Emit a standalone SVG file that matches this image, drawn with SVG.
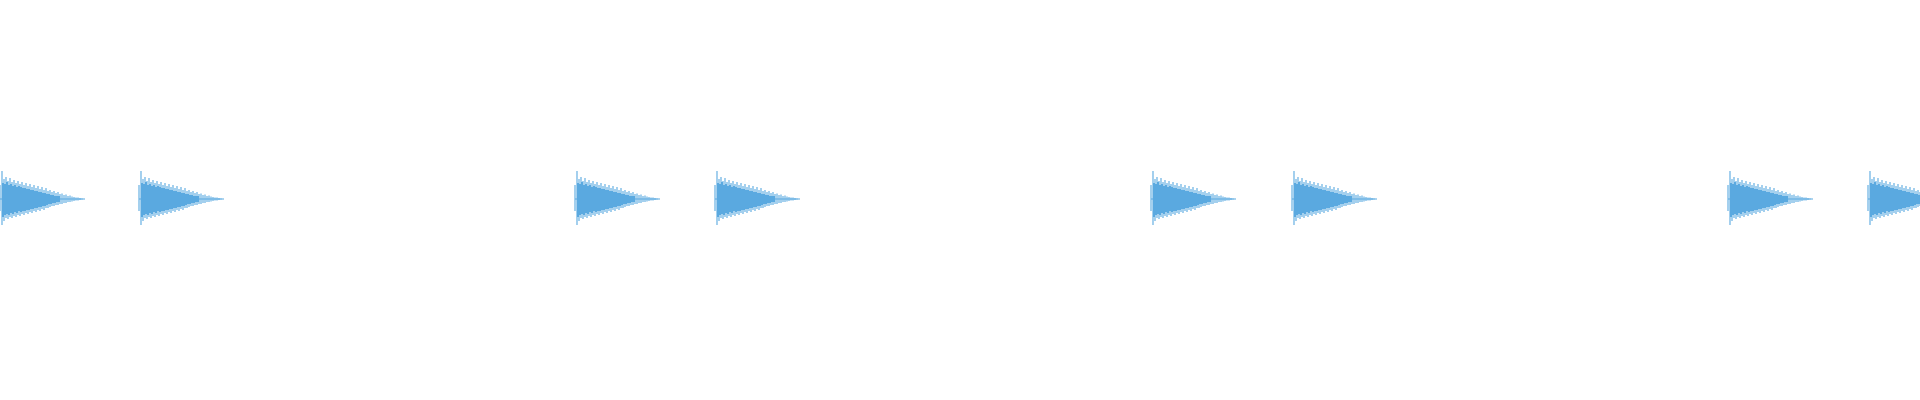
<svg xmlns="http://www.w3.org/2000/svg" width="1920" height="400" viewBox="0 0 1920 400">
<style>.w{fill:none;stroke:#5aa9e0;stroke-width:1.1}</style>
<defs>
<path id="b" class="w" d="M0,0H85M0,-14V12M2,-28V26M3,-16V18M4,-20V22M5,-15V16M6,-22V19M7,-17V15M8,-18V20M9,-14V16M10,-21V18M11,-15V14M12,-17V19M13,-13V15M14,-19V17M15,-14V13M16,-16V18M17,-12V14M18,-18V16M19,-13V12M20,-15V17M21,-12V13M22,-17V15M23,-11V12M24,-14V16M25,-11V12M26,-16V14M27,-10V11M28,-13V15M29,-10V11M30,-15V13M31,-9V10M32,-12V14M33,-9V10M34,-14V12M35,-8V9M36,-11V13M37,-8V9M38,-13V11M39,-7V8M40,-10V12M41,-7V8M42,-12V10M43,-6V7M44,-9V11M45,-6V7M46,-11V9M47,-5V6M48,-8V9M49,-5V5M50,-9V8M51,-4V5M52,-7V7M53,-4V4M54,-8V7M55,-3V4M56,-6V6M57,-3V3M58,-7V6M59,-3V3M60,-5V5M62,-5.5V5M64,-4V4M66,-4.5V4M68,-3V3M70,-3.5V3M72,-2.5V2.5M74,-2V2M76,-1.5V1.5M78,-1.5V1.5M80,-1V1M82,-0.8V0.8"/>
</defs>
<use href="#b" x="0" y="199"/>
<use href="#b" x="139" y="199"/>
<use href="#b" x="575" y="199"/>
<use href="#b" x="715" y="199"/>
<use href="#b" x="1151" y="199"/>
<use href="#b" x="1292" y="199"/>
<use href="#b" x="1728" y="199"/>
<use href="#b" x="1868" y="199"/>
</svg>
